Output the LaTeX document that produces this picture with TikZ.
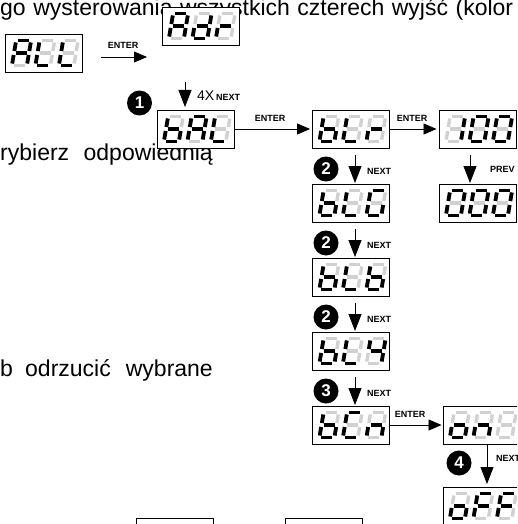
\documentclass[tikz,border=0pt]{standalone}
\usepackage{fontspec}
\setmainfont{Liberation Sans}
\usetikzlibrary{arrows.meta,calc}
\definecolor{cOff}{gray}{0.82}
\tikzset{
  disp/.style={draw, line width=0.9pt, fill=white, minimum width=77pt, minimum height=38pt, inner sep=0pt},
  segon/.style={line width=3.8pt, black},
  segoff/.style={line width=3.4pt, cOff},
  harrow/.style={line width=0.8pt, -{Triangle[length=13pt,width=11pt]}},
  varrow/.style={line width=0.8pt, -{Triangle[length=17pt,width=13pt]}},
  btn/.style={font=\fontsize{9}{9}\selectfont\bfseries, inner sep=0pt},
  big/.style={font=\fontsize{14}{14}\selectfont, inner sep=0pt},
  num/.style={circle, fill=black, minimum size=25pt, inner sep=0pt, text=white, font=\fontsize{17}{17}\selectfont\bfseries},
  body/.style={font=\fontsize{23}{23}\selectfont, inner sep=0pt},
}
\def\sgA#1{\draw[#1] (-5.5,-12.5) -- (5.5,-12.5);}
\def\sgB#1{\draw[#1] (7.5,-10.5) -- (7.5,-2);}
\def\sgC#1{\draw[#1] (7.5,2) -- (7.5,10.5);}
\def\sgD#1{\draw[#1] (-5.5,12.5) -- (5.5,12.5);}
\def\sgE#1{\draw[#1] (-7.5,2) -- (-7.5,10.5);}
\def\sgF#1{\draw[#1] (-7.5,-10.5) -- (-7.5,-2);}
\def\sgG#1{\draw[#1] (-5.5,0) -- (5.5,0);}
\def\sgN#1{}
\newcommand\digit[3]{%
  \begin{scope}[shift={(#1,#2)}, xslant=0.17]
    \foreach \s in {A,B,C,D,E,F,G}{\csname sg\s\endcsname{segoff}}
    \foreach \s in {#3}{\csname sg\s\endcsname{segon}}
  \end{scope}}
\newcommand\display[6]{%
  \node[disp] (#1) at (#2,#3) {};
  \digit{#2-22}{#3}{#4}
  \digit{#2+1.5}{#3}{#5}
  \digit{#2+25}{#3}{#6}}
\begin{document}
\begin{tikzpicture}[x=1pt,y=-1pt]
\useasboundingbox (0,0) rectangle (517,524);
\clip (0,0) rectangle (517,524);
% text lines
\node[body, anchor=base west] (t1) at (0,16) {\spaceskip=7.5pt\relax go wysterowania wszystkich czterech wyjść (kolor};
\node[body, anchor=base west] (t2a) at (0,160) {rybierz};
\node[body, anchor=base east] (t2b) at (213,160) {odpowiednią};
\node[body, anchor=base west] (t3a) at (0,376) {b};
\node[body, anchor=base west] (t3b) at (25,376) {odrzucić};
\node[body, anchor=base east] (t3c) at (213,376) {wybrane};
% displays
\display{ALL}{43.5}{53}{A,B,C,E,F,G}{D,E,F}{D,E,F}
\display{Adr}{200.5}{26}{A,B,C,E,F,G}{B,C,D,E,G}{E,G}
\display{bAL}{195.5}{129}{C,D,E,F,G}{A,B,C,E,F,G}{D,E,F}
\display{bLr}{351}{129}{C,D,E,F,G}{D,E,F}{E,G}
\display{d100}{477.5}{129}{B,C}{A,B,C,D,E,F}{A,B,C,D,E,F}
\display{bLG}{351}{203}{C,D,E,F,G}{D,E,F}{A,C,D,E,F}
\display{d000}{477.5}{203}{A,B,C,D,E,F}{A,B,C,D,E,F}{A,B,C,D,E,F}
\display{bLb}{351}{277}{C,D,E,F,G}{D,E,F}{C,D,E,F,G}
\display{bLY}{351}{351}{C,D,E,F,G}{D,E,F}{B,C,F,G}
\display{bCn}{351}{425}{C,D,E,F,G}{A,D,E,F}{C,E,G}
\display{on}{481.5}{425}{C,D,E,G}{C,E,G}{N}
\display{oFF}{481.5}{506}{C,D,E,G}{A,E,F,G}{A,E,F,G}
\node[disp] (p1) at (175,537) {};
\node[disp] (p2) at (324,537) {};
% ENTER arrows
\coordinate (e1s) at (101,57);
\coordinate (e1e) at (147,57);
\draw[harrow] (e1s) -- (e1e);
\node[btn] (l1) at (123,45) {ENTER};
\draw[harrow, shorten >=2pt] (bAL.east) -- (bLr.west);
\node[btn] (l2) at (270,118) {ENTER};
\draw[harrow, shorten >=2pt] (bLr.east) -- (d100.west);
\node[btn] (l3) at (412,118) {ENTER};
\draw[harrow, shorten >=1pt] (bCn.east) -- (on.west);
\node[btn] (l4) at (410,414) {ENTER};
% 4x next
\coordinate (a1s) at (185,82);
\coordinate (a1e) at (185,107);
\draw[varrow] (a1s) -- (a1e);
\node[num] (c1) at (139.5,103) {1};
\node[big, anchor=base west] (l5) at (197,101) {4X};
\node[btn, anchor=base west] (l6) at (l5.base east) {\,NEXT};
% next arrows in column
\foreach \i/\y/\n in {1/155/2,2/229/2,3/303/2,4/377/3}{
  \coordinate (n\i s) at (355,\y);
  \coordinate (n\i e) at (355,\y+28);
  \draw[varrow] (n\i s) -- (n\i e);
  \node[num] (c\i n) at (326,\y+14) {\n};
  \node[btn, anchor=west] (nl\i) at (367,\y+16) {NEXT};
}
% prev
\coordinate (ps) at (470,155);
\coordinate (pe) at (470,183);
\draw[varrow] (ps) -- (pe);
\node[btn, anchor=west] (pl) at (490,169) {PREV};
% 4 next
\coordinate (n5s) at (487,444);
\coordinate (n5e) at (487,484);
\draw[varrow] (n5s) -- (n5e);
\node[num] (c5) at (459,463) {4};
\node[btn, anchor=west] (nl5) at (496,458) {NEXT};
\end{tikzpicture}
\end{document}
